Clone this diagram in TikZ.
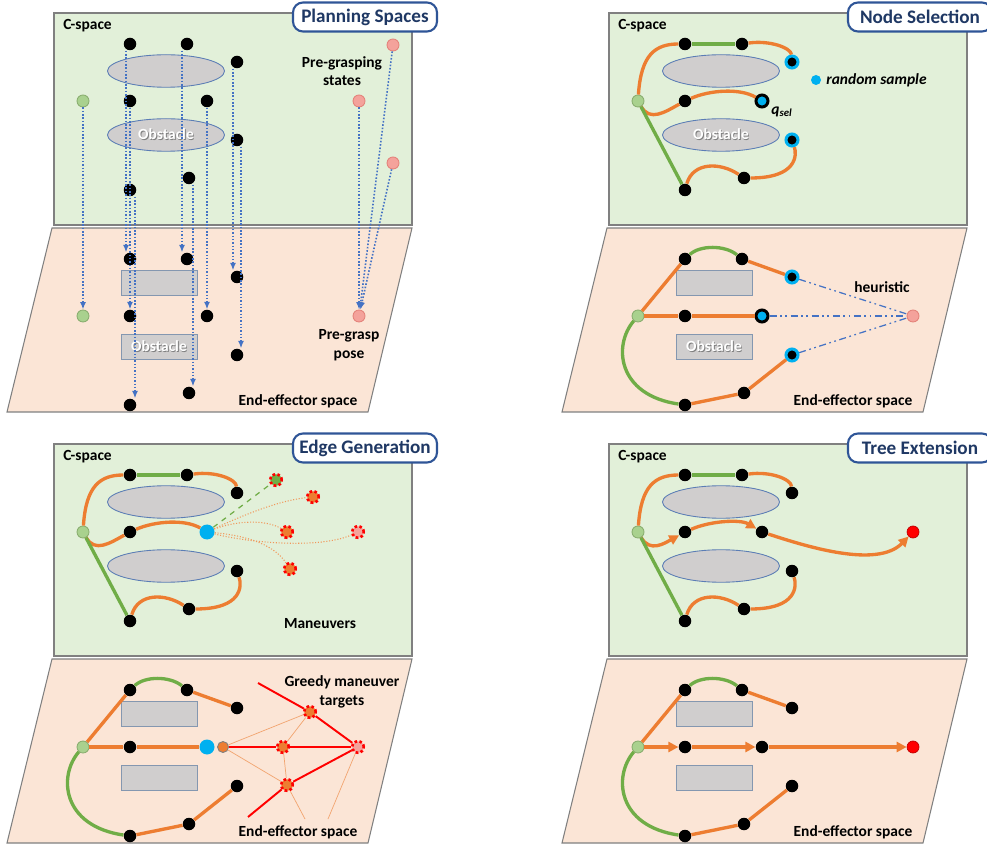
\documentclass[tikz,border=0pt]{standalone}
\usepackage{fontspec}
\setmainfont{Carlito}
\usepackage{tikz}
\usetikzlibrary{shapes.geometric, arrows.meta}

\definecolor{cspace}{HTML}{E2F0D9}
\definecolor{espace}{HTML}{FBE5D6}
\definecolor{frame}{HTML}{808080}
\definecolor{obst}{HTML}{D0CECE}
\definecolor{obstline}{HTML}{5B7DB5}
\definecolor{obstrect}{HTML}{8497B0}
\definecolor{orangeedge}{HTML}{ED7D31}
\definecolor{greenedge}{HTML}{70AD47}
\definecolor{rootfill}{HTML}{A9D18E}
\definecolor{rootline}{HTML}{8AAE70}
\definecolor{goalfill}{HTML}{F4A29B}
\definecolor{goalline}{HTML}{E4837B}
\definecolor{sample}{HTML}{00B0F0}
\definecolor{titleline}{HTML}{2F5597}
\definecolor{titletext}{HTML}{1F3864}
\definecolor{mapblue}{HTML}{4472C4}

\newcommand{\lblfont}{\fontsize{8.8}{10.5}\selectfont\bfseries}
\newcommand{\shadowed}[1]{\makebox[0pt][l]{\hspace{0.5pt}\raisebox{-0.5pt}{\textcolor{black!50}{#1}}}\textcolor{white}{#1}}

\tikzset{
  cpane/.style={fill=cspace, draw=frame, line width=0.6pt},
  epane/.style={fill=espace, draw=frame, line width=0.6pt},
  cobst/.style={ellipse, fill=obst, draw=obstline, line width=0.5pt, minimum width=23.4mm, minimum height=6.5mm, inner sep=0pt, font=\lblfont},
  eobst/.style={rectangle, fill=obst, draw=obstrect, line width=0.5pt, minimum width=15.2mm, minimum height=5.1mm, inner sep=0pt, font=\lblfont},
  lbl/.style={font=\lblfont, inner sep=0pt, align=center},
  titlebox/.style={draw=titleline, line width=1.2pt, rounded corners=2mm, fill=white, minimum width=28.8mm, minimum height=5.8mm, font=\fontsize{10.9}{13}\selectfont\bfseries, text=titletext},
  vtx/.style={circle, fill=black, inner sep=0pt, minimum size=2.5mm},
  root/.style={circle, fill=rootfill, draw=rootline, line width=0.5pt, inner sep=0pt, minimum size=2.4mm},
  goal/.style={circle, fill=goalfill, draw=goalline, line width=0.5pt, inner sep=0pt, minimum size=2.4mm},
  tgt/.style={circle, fill=red, draw=red!75!black, line width=0.4pt, inner sep=0pt, minimum size=2.4mm},
  smp/.style={circle, fill=black, draw=sample, line width=1.7pt, inner sep=0pt, minimum size=2.4mm},
  qsel/.style={circle, fill=sample, draw=black, line width=1.7pt, inner sep=0pt, minimum size=2.4mm},
  bigsmp/.style={circle, fill=sample, inner sep=0pt, minimum size=3mm},
  smpdot/.style={circle, fill=sample, inner sep=0pt, minimum size=2mm},
  onode/.style={circle, fill=orangeedge, draw=gray, line width=0.5pt, inner sep=0pt, minimum size=2.2mm},
  mnv/.style={circle, fill=#1, draw=red, line width=1.5pt, dash pattern=on 1.5pt off 1.3pt, inner sep=0pt, minimum size=2.3mm},
  mnv/.default=orangeedge,
  oedge/.style={draw=orangeedge, line width=1.9pt},
  gedge/.style={draw=greenedge, line width=1.9pt},
  redge/.style={draw=red, line width=1.1pt},
  thinedge/.style={draw=orangeedge!70, line width=0.4pt},
  mcurve/.style={draw=orangeedge!80, line width=0.6pt, densely dotted},
  gdash/.style={draw=greenedge, line width=0.7pt, dashed},
  heur/.style={draw=mapblue, line width=0.7pt, dash pattern=on 4pt off 2pt on 1pt off 2pt on 1pt off 2pt},
  proj/.style={draw=mapblue, line width=0.9pt, densely dotted, -{Latex[length=1.5mm, width=1.2mm]}},
  headed/.style={-{Triangle[length=2mm, width=2mm]}}
}

% background of one panel: #1 prefix, #2 title, #3 obstacle text
\newcommand{\planes}[3]{%
  \draw[cpane] (54,13) rectangle (412,225);
  \draw[epane] (52,228) -- (412,228) -- (368,412) -- (7,412) -- cycle;
  \node[cobst] (#1-o1) at (166,71) {};
  \node[cobst] (#1-o2) at (166,135) {#3};
  \node[eobst] (#1-o3) at (159,283) {};
  \node[eobst] (#1-o4) at (159,347) {#3};
  \node[lbl, anchor=west] (#1-cs) at (63,26) {C-space};
  \node[lbl] (#1-es) at (298,401) {End-effector space};
  \node[titlebox] (#1-tt) at (365,17) {#2};
}
% tree nodes in C-space and in end-effector space
\newcommand{\cnodes}[4]{%
  \node[root] (#1-r) at (83,101) {};
  \foreach \n/\x/\y in {t1/130/44, t2/187/44, m1/130/101, b1/130/190, b2/189/178}
    {\node[vtx] (#1-\n) at (\x,\y) {};}
  \node[#2] (#1-t3) at (237,62) {};
  \node[#3] (#1-m2) at (207,101) {};
  \node[#4] (#1-b3) at (237,140) {};
}
\newcommand{\enodes}[4]{%
  \node[root] (#1-r) at (83,316) {};
  \foreach \n/\x/\y in {t1/130/259, t2/187/259, m1/130/316, b1/130/405, b2/189/393}
    {\node[vtx] (#1-\n) at (\x,\y) {};}
  \node[#2] (#1-t3) at (237,277) {};
  \node[#3] (#1-m2) at (207,316) {};
  \node[#4] (#1-b3) at (237,355) {};
}
% tree edges
\newcommand{\cedges}[2]{%
  \draw[oedge] (#1-r) .. controls (86,55) and (100,44) .. (#1-t1);
  \draw[gedge] (#1-t1) -- (#1-t2);
  \draw[oedge] (#1-t2) .. controls (215,40) and (236,48) .. (#1-t3);
  \draw[oedge,#2] (#1-r) .. controls (95,122) and (110,112) .. (#1-m1);
  \draw[oedge,#2] (#1-m1) .. controls (155,90) and (185,88) .. (#1-m2);
  \draw[gedge] (#1-r) -- (#1-b1);
  \draw[oedge] (#1-b1) .. controls (138,162) and (165,162) .. (#1-b2);
  \draw[oedge] (#1-b2) .. controls (242,178) and (242,155) .. (#1-b3);
}
\newcommand{\eedges}[2]{%
  \draw[oedge] (#1-r) -- (#1-t1);
  \draw[gedge] (#1-t1) .. controls (145,245) and (170,245) .. (#1-t2);
  \draw[oedge] (#1-t2) -- (#1-t3);
  \draw[oedge,#2] (#1-r) -- (#1-m1);
  \draw[oedge,#2] (#1-m1) -- (#1-m2);
  \draw[gedge] (#1-r) .. controls (58,345) and (62,395) .. (#1-b1);
  \draw[oedge] (#1-b1) -- (#1-b2);
  \draw[oedge] (#1-b2) -- (#1-b3);
}

\begin{document}
\begin{tikzpicture}[x=0.2mm, y=-0.2mm]
  \useasboundingbox (0,0) rectangle (987,846);

  % planning spaces
  \planes{plan}{Planning Spaces}{\shadowed{Obstacle}}
  \cnodes{plan-c}{vtx}{vtx}{vtx}
  \enodes{plan-e}{vtx}{vtx}{vtx}
  \node[goal] (plan-c-g1) at (393,45) {};
  \node[goal] (plan-c-g2) at (359,101) {};
  \node[goal] (plan-c-g3) at (393,163) {};
  \node[goal] (plan-e-g) at (359,316) {};
  \node[lbl] (plan-pgs) at (342,71) {Pre-grasping\\states};
  \node[lbl] (plan-pgp) at (349,345) {Pre-grasp\\pose};
  \draw[proj] (plan-c-r) -- (plan-e-r);
  \draw[proj] ([xshift=-0.8mm]plan-c-t1.south) -- ([xshift=-0.8mm]plan-e-t1.north);
  \draw[proj] ([xshift=-1mm]plan-c-t2.south) -- ([xshift=-1mm]plan-e-t2.north);
  \draw[proj] ([xshift=-0.8mm]plan-c-t3.south) -- ([xshift=-0.8mm]plan-e-t3.north);
  \draw[proj] (plan-c-m1.south) -- (plan-e-m1.north);
  \draw[proj] (plan-c-m2.south) -- (plan-e-m2.north);
  \draw[proj] ([xshift=0.8mm]plan-c-b3.south) -- ([xshift=0.8mm]plan-e-b3.north);
  \draw[proj] ([xshift=0.8mm]plan-c-b2.south) -- ([xshift=0.8mm]plan-e-b2.north);
  \draw[proj] ([xshift=1mm]plan-c-b1.south) -- ([xshift=1mm]plan-e-b1.north);
  \draw[proj] (plan-c-g1) -- (plan-e-g);
  \draw[proj] (plan-c-g2) -- (plan-e-g);
  \draw[proj] (plan-c-g3) -- (plan-e-g);

  % node selection
  \begin{scope}[shift={(555,0)}]
    \planes{sel}{Node Selection}{\shadowed{Obstacle}}
    \cnodes{sel-c}{smp}{qsel}{smp}
    \enodes{sel-e}{smp}{qsel}{smp}
    \cedges{sel-c}{}
    \eedges{sel-e}{}
    \node[smpdot] (sel-key) at (261,80) {};
    \node[lbl, anchor=west] (sel-keytext) at (271,80) {\textit{random sample}};
    \node[lbl] (sel-qlab) at (227,112) {\textit{q}\textsubscript{\textit{sel}}};
    \node[goal] (sel-e-g) at (358,316) {};
    \node[lbl] (sel-heur) at (327,287) {heuristic};
    \draw[heur] (sel-e-t3) -- (sel-e-g);
    \draw[heur] (sel-e-m2) -- (sel-e-g);
    \draw[heur] (sel-e-b3) -- (sel-e-g);
  \end{scope}

  % edge generation
  \begin{scope}[shift={(0,431)}]
    \planes{gen}{Edge Generation}{}
    \cnodes{gen-c}{vtx}{bigsmp}{vtx}
    \enodes{gen-e}{vtx}{bigsmp}{vtx}
    \cedges{gen-c}{}
    \eedges{gen-e}{}
    \node[mnv=greenedge] (gen-c-s1) at (276,49) {};
    \node[mnv] (gen-c-s2) at (313,66) {};
    \node[mnv] (gen-c-s3) at (287,101) {};
    \node[mnv=goalfill] (gen-c-s4) at (358,101) {};
    \node[mnv] (gen-c-s5) at (290,138) {};
    \draw[gdash] (gen-c-m2) -- (gen-c-s1);
    \draw[mcurve] (gen-c-m2) .. controls (235,88) and (275,70) .. (gen-c-s2);
    \draw[mcurve] (gen-c-m2) .. controls (235,90) and (265,88) .. (gen-c-s3);
    \draw[mcurve] (gen-c-m2) .. controls (250,112) and (320,118) .. (gen-c-s4);
    \draw[mcurve] (gen-c-m2) .. controls (250,105) and (275,115) .. (gen-c-s5);
    \node[lbl] (gen-man) at (320,193) {Maneuvers};
    \node[onode] (gen-e-o) at (223,316) {};
    \node[mnv] (gen-e-s1) at (310,281) {};
    \node[mnv] (gen-e-s2) at (283,316) {};
    \node[mnv=goalfill] (gen-e-s3) at (358,316) {};
    \node[mnv] (gen-e-s4) at (287,354) {};
    \coordinate (gen-e-f1) at (258,252);
    \coordinate (gen-e-f2) at (248,386);
    \coordinate (gen-e-f3) at (305,388);
    \coordinate (gen-e-f4) at (328,388);
    \draw[thinedge] (gen-e-o) -- (gen-e-s1) (gen-e-o) -- (gen-e-s4)
      (gen-e-s2) -- (gen-e-s1) (gen-e-s2) -- (gen-e-s4)
      (gen-e-s4) -- (gen-e-f3) (gen-e-s3) -- (gen-e-f4);
    \draw[redge] (gen-e-f1) -- (gen-e-s1) -- (gen-e-s3);
    \draw[redge] (gen-e-o) -- (gen-e-s2) -- (gen-e-s3);
    \draw[redge] (gen-e-f2) -- (gen-e-s4) -- (gen-e-s3);
    \node[lbl] (gen-gmt) at (342,261) {Greedy maneuver\\targets};
  \end{scope}

  % tree extension
  \begin{scope}[shift={(555,431)}]
    \planes{ext}{Tree Extension}{}
    \cnodes{ext-c}{vtx}{vtx}{vtx}
    \enodes{ext-e}{vtx}{vtx}{vtx}
    \node[tgt] (ext-c-g) at (358,101) {};
    \node[tgt] (ext-e-g) at (358,316) {};
    \cedges{ext-c}{headed}
    \eedges{ext-e}{headed}
    \draw[oedge,headed] (ext-c-m2) .. controls (250,115) and (322,138) .. (ext-c-g);
    \draw[oedge,headed] (ext-e-m2) -- (ext-e-g);
  \end{scope}
\end{tikzpicture}
\end{document}
